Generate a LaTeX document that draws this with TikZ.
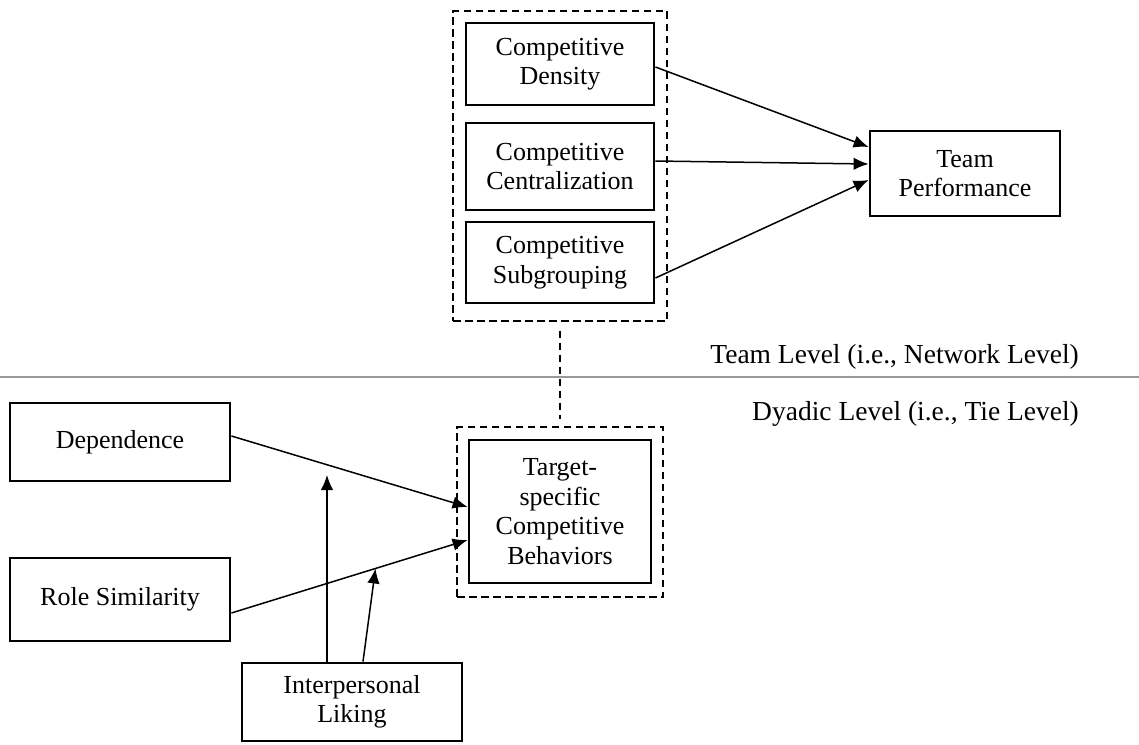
\documentclass[tikz,border=0pt]{standalone}
\usepackage{fontspec}
\setmainfont{Liberation Serif}
\usetikzlibrary{arrows.meta,calc}
\begin{document}
\begin{tikzpicture}[x=1pt,y=-1pt,
  box/.style={draw=black,line width=2.8pt,rectangle,inner sep=0pt,align=center,
    font=\fontsize{26}{29.5}\selectfont},
  dashbox/.style={draw=black,line width=1.3pt,dash pattern=on 7.5pt off 4.5pt,rectangle,inner sep=0pt},
  conn/.style={draw=black,line width=1.5pt,-{Latex[length=15pt,width=12.5pt]}},
  level/.style={font=\fontsize{27.5}{31}\selectfont,inner sep=0pt}
]
\useasboundingbox (0,0) rectangle (1139,744);
% top group
\node[dashbox,minimum width=214pt,minimum height=310pt] (topdash) at (560,166) {};
\node[box,minimum width=188pt,minimum height=82pt] (dens) at (560,64) {Competitive\\Density};
\node[box,minimum width=188pt,minimum height=87pt] (cent) at (560,166.5) {Competitive\\Centralization};
\node[box,minimum width=188pt,minimum height=81pt] (subg) at (560,262.5) {Competitive\\Subgrouping};
\node[box,minimum width=190pt,minimum height=85pt] (team) at (965,173.5) {Team\\Performance};
% level separator
\coordinate (hl) at (0,377);
\coordinate (hr) at (1139,377);
\draw[line width=1.8pt,draw=black!40] (hl) -- (hr);
\node[level,anchor=base east] (tlevel) at (1079,363) {Team Level (i.e., Network Level)};
\node[level,anchor=base east] (dlevel) at (1079,420) {Dyadic Level (i.e., Tie Level)};
% bottom group
\node[dashbox,minimum width=206pt,minimum height=170pt] (lowdash) at (560,512) {};
\node[box,minimum width=182pt,minimum height=143pt] (target) at (560,511.5) {Target-\\specific\\Competitive\\Behaviors};
\node[box,minimum width=220pt,minimum height=78pt] (dep) at (120,442) {Dependence};
\node[box,minimum width=220pt,minimum height=83pt] (role) at (120,599.5) {Role Similarity};
\node[box,minimum width=220pt,minimum height=78pt] (liking) at (352,702) {Interpersonal\\Liking};
% dashed link between levels
\draw[line width=1.3pt,dash pattern=on 7.5pt off 4.5pt] ([yshift=-9pt]topdash.south) -- ([yshift=7pt]lowdash.north);
% top arrows
\draw[conn] ([yshift=-3pt]dens.east) -- ([yshift=26.5pt]team.west);
\draw[conn] ([yshift=5.5pt]cent.east) -- ([yshift=9.5pt]team.west);
\draw[conn] ([yshift=-15.5pt]subg.east) -- ([yshift=-6.5pt]team.west);
% bottom arrows
\draw[conn] ([yshift=6pt]dep.east) -- ([yshift=4.5pt]target.west);
\draw[conn] ([yshift=-13.5pt]role.east) -- coordinate[pos=0.61] (rl) ([yshift=-28.5pt]target.west);
\coordinate (mtip) at (327,475);
\draw[conn] (liking.north -| mtip) -- (mtip);
\draw[conn] ([xshift=11pt]liking.north) -- (rl);
\end{tikzpicture}
\end{document}
